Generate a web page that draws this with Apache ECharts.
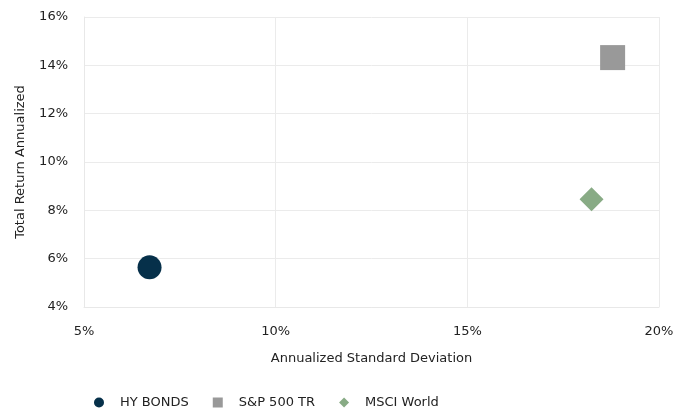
<!DOCTYPE html>
<html><head><meta charset="utf-8">
<script src="https://cdn.jsdelivr.net/npm/echarts@6/dist/echarts.min.js"></script>
<style>html,body{margin:0;padding:0;background:#fff}#c{width:690px;height:412px}</style>
</head><body><div id="c"></div>
<script>
const seriesNames = ['HY BONDS', 'S&P 500 TR', 'MSCI World'];
const stdDev = [6.71, 18.79, 18.24];
const totalReturn = [5.64, 14.32, 8.46];
const colors = ['#06304a', '#999999', '#88ab85'];
const symbols = ['circle', 'rect', 'diamond'];
const symbolSizes = [24, 25, 24];

const chart = echarts.init(document.getElementById('c'));
const font = 'DejaVu Sans';
chart.setOption({
  animation: false,
  grid: {left: 84, right: 31, top: 17, bottom: 105},
  xAxis: {
    type: 'value', min: 5, max: 20, interval: 5,
    name: 'Annualized Standard Deviation', nameLocation: 'middle', nameGap: 45,
    nameTextStyle: {fontFamily: font, fontSize: 13, color: '#222'},
    axisLine: {show: true, lineStyle: {color: '#e8e8e8'}},
    axisTick: {show: false},
    axisLabel: {formatter: '{value}%', fontFamily: font, fontSize: 13, color: '#222', margin: 18},
    splitLine: {show: true, lineStyle: {color: '#ebebeb'}}
  },
  yAxis: {
    type: 'value', min: 4, max: 16, interval: 2,
    name: 'Total Return Annualized', nameLocation: 'middle', nameGap: 57,
    nameTextStyle: {fontFamily: font, fontSize: 13, color: '#222'},
    axisLine: {show: true, lineStyle: {color: '#e8e8e8'}},
    axisTick: {show: false},
    axisLabel: {formatter: '{value}%', fontFamily: font, fontSize: 13, color: '#222', margin: 16},
    splitLine: {show: true, lineStyle: {color: '#ebebeb'}}
  },
  legend: {
    top: 391, left: 89, itemGap: 24, itemWidth: 10, itemHeight: 10,
    textStyle: {fontFamily: font, fontSize: 13, color: '#222', padding: [0, 0, 0, 11]},
    data: seriesNames.map((n, i) => ({name: n, icon: symbols[i]}))
  },
  series: seriesNames.map((n, i) => ({
    name: n, type: 'scatter',
    symbol: symbols[i], symbolSize: symbolSizes[i],
    itemStyle: {color: colors[i], opacity: 1},
    data: [[stdDev[i], totalReturn[i]]]
  }))
});
</script></body></html>
